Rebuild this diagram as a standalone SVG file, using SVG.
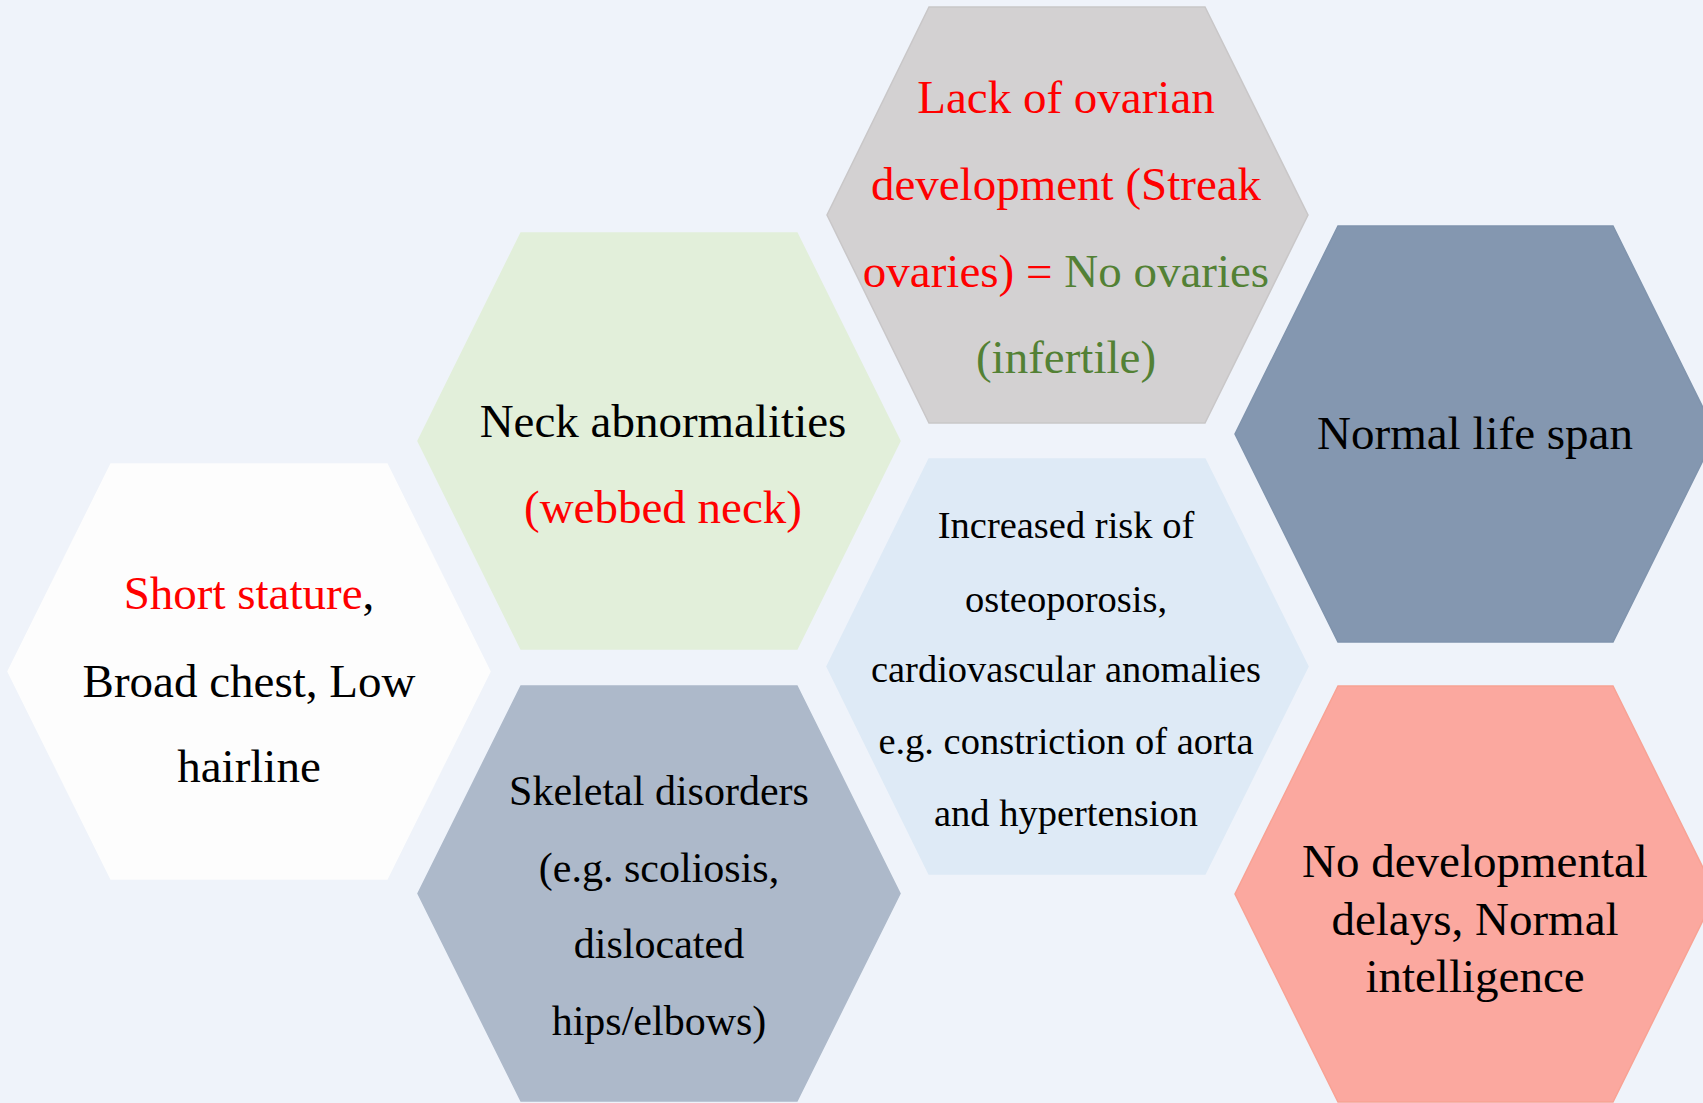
<svg xmlns="http://www.w3.org/2000/svg" width="1703" height="1103" viewBox="0 0 1703 1103">
  <style>
    .hex { stroke-width: 1.5; }
    .t { font-family: "Liberation Serif", "DejaVu Serif", serif; text-anchor: middle; fill: #000000; }
    .lg { font-size: 47px; }
    .md { font-size: 42px; }
    .sm { font-size: 38.5px; }
    .red { fill: #FF0000; }
    .grn { fill: #538135; }
  </style>
  <rect width="1703" height="1103" fill="#EFF3FA"/>

  <g id="node-stature">
    <polygon class="hex" fill="#FDFDFD" stroke="#FDFDFD" points="111,464 387,464 490,671.5 387,879 111,879 8,671.5"/>
    <text class="t lg" x="249" y="609"><tspan class="red">Short stature</tspan>,</text>
    <text class="t lg" x="249" y="697">Broad chest, Low</text>
    <text class="t lg" x="249" y="782">hairline</text>
  </g>

  <g id="node-neck">
    <polygon class="hex" fill="#E2EFDA" stroke="#E2EFDA" points="521,233 797,233 900,441 797,649 521,649 418,441"/>
    <text class="t lg" x="663" y="437">Neck abnormalities</text>
    <text class="t lg red" x="663" y="523">(webbed neck)</text>
  </g>

  <g id="node-ovarian">
    <polygon class="hex" fill="#D3D1D2" stroke="#C9C7C8" points="929,7 1205,7 1308,215 1205,423 929,423 827,215"/>
    <text class="t lg red" x="1066" y="113">Lack of ovarian</text>
    <text class="t lg red" x="1066" y="200">development (Streak</text>
    <text class="t lg" x="1066" y="287"><tspan class="red">ovaries) = </tspan><tspan class="grn">No ovaries</tspan></text>
    <text class="t lg grn" x="1066" y="373">(infertile)</text>
  </g>

  <g id="node-lifespan">
    <polygon class="hex" fill="#8497B0" stroke="#8094AD" points="1338,226 1613,226 1716,434 1613,642 1338,642 1235,434"/>
    <text class="t lg" x="1475" y="449">Normal life span</text>
  </g>

  <g id="node-cardio">
    <polygon class="hex" fill="#DEEAF6" stroke="#DEEAF6" points="929,459 1205,459 1308,666.5 1205,874 929,874 827,666.5"/>
    <text class="t sm" x="1066" y="538">Increased risk of</text>
    <text class="t sm" x="1066" y="612">osteoporosis,</text>
    <text class="t sm" x="1066" y="682">cardiovascular anomalies</text>
    <text class="t sm" x="1066" y="754">e.g. constriction of aorta</text>
    <text class="t sm" x="1066" y="826">and hypertension</text>
  </g>

  <g id="node-skeletal">
    <polygon class="hex" fill="#ADB9CA" stroke="#ADB9CA" points="521,686 797,686 900,893.5 797,1101 521,1101 418,893.5"/>
    <text class="t md" x="659" y="805">Skeletal disorders</text>
    <text class="t md" x="659" y="882">(e.g. scoliosis,</text>
    <text class="t md" x="659" y="958">dislocated</text>
    <text class="t md" x="659" y="1035">hips/elbows)</text>
  </g>

  <g id="node-development">
    <polygon class="hex" fill="#FBA89F" stroke="#F8A294" points="1338,686 1613,686 1716,894 1613,1102 1338,1102 1235,894"/>
    <text class="t lg" x="1475" y="877">No developmental</text>
    <text class="t lg" x="1475" y="935">delays, Normal</text>
    <text class="t lg" x="1475" y="992">intelligence</text>
  </g>

  <g id="connectors"/>
</svg>
